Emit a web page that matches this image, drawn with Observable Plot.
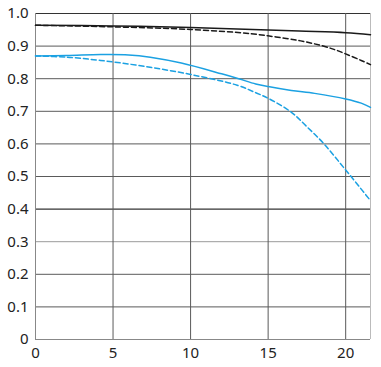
<!DOCTYPE html>
<html>
<head>
<meta charset="utf-8">
<script src="https://cdn.jsdelivr.net/npm/d3@7"></script>
<script src="https://cdn.jsdelivr.net/npm/@observablehq/plot@0.6"></script>
<style>
  html, body { margin: 0; padding: 0; background: #fff; }
  #chart svg { display: block; }
</style>
</head>
<body>
<div id="chart"></div>
<script>
// Image height (mm) positions
const xTicks = [0, 5, 10, 15, 20];
const yTicks = [0, 0.1, 0.2, 0.3, 0.4, 0.5, 0.6, 0.7, 0.8, 0.9, 1.0];
const yTickLabels = ["0", "0.1", "0.2", "0.3", "0.4", "0.5", "0.6", "0.7", "0.8", "0.9", "1.0"];
const xMax = 21.6;

// Series (x, MTF)
const blackSolidX = [0, 5, 10, 14, 17, 20, 21.6];
const blackSolidY = [0.964, 0.962, 0.957, 0.951, 0.946, 0.941, 0.935];

const blackDashedX = [0, 5, 10, 13.9, 15.5, 17.1, 18.4, 19.3, 20, 21, 21.6];
const blackDashedY = [0.964, 0.959, 0.951, 0.938, 0.928, 0.916, 0.902, 0.889, 0.876, 0.856, 0.843];

const blueSolidX = [0, 2, 4.2, 6, 7.4, 9.4, 12, 13.1, 14.2, 15, 16.5, 18, 20, 21, 21.6];
const blueSolidY = [0.870, 0.871, 0.874, 0.873, 0.866, 0.848, 0.815, 0.800, 0.784, 0.776, 0.764, 0.755, 0.738, 0.725, 0.712];

const blueDashedX = [0, 2, 4.2, 7, 10, 13, 14.2, 15, 16.5, 17.45, 18.6, 20, 21.6];
const blueDashedY = [0.870, 0.866, 0.856, 0.838, 0.813, 0.780, 0.757, 0.740, 0.697, 0.655, 0.600, 0.520, 0.426];

const toPts = (xs, ys) => xs.map((x, i) => ({x, y: ys[i]}));
const BLUE = "#1ba1e2";
const BLACK = "#1a1a1a";

function gridColor(v) {
  const r = Math.round(v * 10);
  if (r === 4) return "#000";
  if (r === 3) return "#9a9a9a";
  if (r === 10) return "#333";
  if (r === 0) return "#888";
  return "#5a5a5a";
}

const chart = Plot.plot({
  width: 381,
  height: 367,
  marginLeft: 35,
  marginRight: 11,
  marginTop: 13,
  marginBottom: 28,
  style: {fontFamily: "'Noto Sans', sans-serif", fontSize: "15px", color: "#222", background: "#fff"},
  x: {domain: [0, xMax], label: null},
  y: {domain: [0, 1], label: null},
  marks: [
    Plot.ruleY(yTicks, {stroke: d => gridColor(d), strokeWidth: 1}),
    Plot.ruleX(xTicks.filter(d => d > 0), {stroke: "#5a5a5a", strokeWidth: 1}),
    Plot.ruleX([0], {stroke: "#888", strokeWidth: 1}),
    Plot.ruleX([xMax], {stroke: "#bbb", strokeWidth: 1}),
    Plot.axisY(yTicks, {tickSize: 0, tickPadding: 7, tickFormat: (d, i) => yTickLabels[i], fontSize: 15, fill: "#222", label: null}),
    Plot.axisX(xTicks, {tickSize: 0, tickPadding: 8, tickFormat: d => String(d), fontSize: 15, fill: "#222", label: null}),
    Plot.line(toPts(blackSolidX, blackSolidY), {x: "x", y: "y", stroke: BLACK, strokeWidth: 1.5, curve: "catmull-rom"}),
    Plot.line(toPts(blackDashedX, blackDashedY), {x: "x", y: "y", stroke: BLACK, strokeWidth: 1.5, strokeDasharray: "5,3", curve: "catmull-rom"}),
    Plot.line(toPts(blueSolidX, blueSolidY), {x: "x", y: "y", stroke: BLUE, strokeWidth: 1.5, curve: "catmull-rom"}),
    Plot.line(toPts(blueDashedX, blueDashedY), {x: "x", y: "y", stroke: BLUE, strokeWidth: 1.5, strokeDasharray: "5,3", curve: "catmull-rom"})
  ]
});
document.getElementById("chart").appendChild(chart);
</script>
</body>
</html>
